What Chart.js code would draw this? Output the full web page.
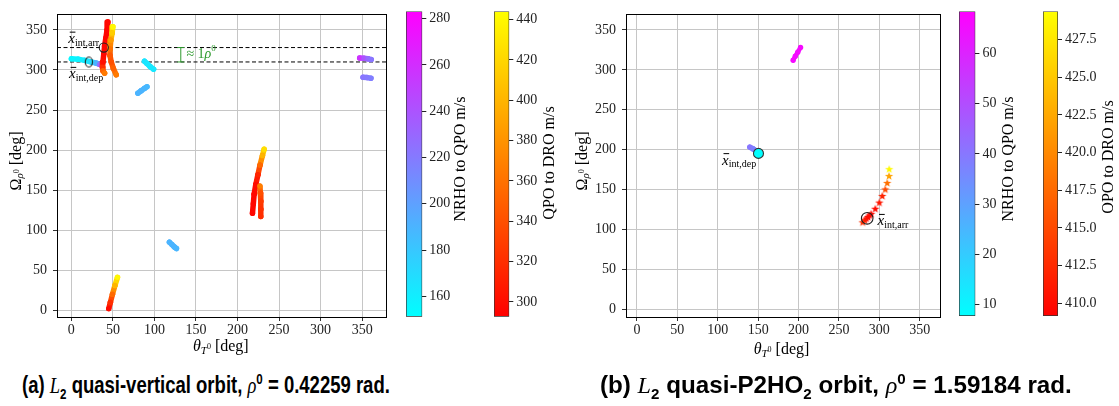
<!DOCTYPE html>
<html>
<head>
<meta charset="utf-8">
<script src="https://cdn.jsdelivr.net/npm/chart.js@4.4.0/dist/chart.umd.min.js"></script>
<style>
  body { margin: 0; background: #fff; width: 1119px; height: 406px; overflow: hidden; position: relative; }
  canvas { position: absolute; top: 0; }
  .cap { position: absolute; top: 371px; white-space: nowrap; transform-origin: left top; line-height: 28px;
         font-family: "Liberation Sans Narrow", "Arial Narrow", "Liberation Sans", sans-serif;
         font-weight: bold; font-size: 24px; color: #000; }
  .cap i { font-family: "Liberation Serif", serif; font-weight: normal; }
  .cap sub, .cap sup { font-size: 15px; line-height: 0; }
</style>
</head>
<body>
<canvas id="plotA" width="392" height="365" style="left:0px"></canvas>
<canvas id="cbA1" width="80" height="330" style="left:400px"></canvas>
<canvas id="cbA2" width="80" height="330" style="left:488px"></canvas>
<canvas id="plotB" width="390" height="365" style="left:560px"></canvas>
<canvas id="cbB1" width="80" height="330" style="left:953px"></canvas>
<canvas id="cbB2" width="76" height="330" style="left:1037px"></canvas>

<div class="cap" id="capA" style="left:22px" data-w="368">(a) <i>L</i><sub>2</sub> quasi-vertical orbit, <i>ρ</i><sup>0</sup> = 0.42259 rad.</div>
<div class="cap" id="capB" style="left:600px" data-w="472">(b) <i>L</i><sub>2</sub> quasi-P2HO<sub>2</sub> orbit, <i>ρ</i><sup>0</sup> = 1.59184 rad.</div>

<script>
// tick labels
const xTicks = [0, 50, 100, 150, 200, 250, 300, 350];
const yTicks = [0, 50, 100, 150, 200, 250, 300, 350];
const aCoolTicks = [160, 180, 200, 220, 240, 260, 280];
const aWarmTicks = [300, 320, 340, 360, 380, 400, 420, 440];
const bCoolTicks = [10, 20, 30, 40, 50, 60];
const bWarmTicks = [410, 412.5, 415, 417.5, 420, 422.5, 425, 427.5];

// colour ranges of the colorbars
const aCoolRange = [151.2, 283.1];
const aWarmRange = [292.7, 444];
const bCoolRange = [7.7, 68.4];
const bWarmRange = [409.16, 429.37];

// panel (a) traces: [theta, Omega, dv]
const aCoolTop = [[0, 314, 156], [8, 313.5, 158], [16, 312, 161], [24, 310, 168], [30, 308.5, 190], [34, 307, 225], [37, 306, 262]];
const aCoolMid = [[88, 311, 165], [91, 308, 164], [95, 304, 163], [99, 301, 163]];
const aCoolLow = [[80, 271, 190], [84, 274, 190], [88, 277, 189], [91, 279, 188]];
const aCoolCentre = [[118, 85, 190], [121, 82, 190], [124, 79, 190], [126.5, 77, 189]];
const aCoolEdgeTop = [[347, 315, 258], [352, 314.5, 240], [357, 314, 228], [361, 313, 222]];
const aCoolEdgeLow = [[351, 291, 222], [356, 290.5, 220], [360.6, 289.6, 218]];
const aWarmA = [[44, 360, 298], [43, 350, 296], [41.5, 340, 295], [40, 330, 296], [39, 320, 298], [38, 310, 302], [37.5, 303, 320], [38, 299, 350], [40, 296, 365]];
const aWarmB = [[50, 354, 440], [49, 346, 415], [47.5, 337, 385], [46.5, 326, 360], [46.5, 318, 345], [48, 310, 340], [50.5, 302, 350], [54, 294, 365]];
const aWarmC = [[232, 201, 425], [230, 193, 400], [227, 181, 355], [224.5, 169, 315], [222, 157, 300], [220, 145, 297], [219, 133, 296], [218, 121, 296]];
const aWarmD = [[227, 155, 368], [227.5, 146, 340], [228, 136, 328], [228, 126, 322], [228, 117, 320]];
const aWarmE = [[45, 2, 298], [47, 10, 320], [49.5, 20, 355], [52.5, 31, 400], [55.5, 41, 440]];
const aArr = [39, 328];
const aDep = [21, 310];
const aGap = [131.7, 310, 328];

// panel (b) traces
const bCoolTop = [[193.3, 312, 66], [196, 317, 66], [199, 322, 66], [202.5, 328, 66]];
const bCoolDep = [[139.7, 203.4, 40], [144, 201, 38], [148, 198.5, 36]];
const bWarmStars = [[312.3, 175.8, 429], [312, 167.2, 422], [309.8, 158.6, 418], [307.4, 150.5, 415], [303.7, 142.3, 412],
  [300, 134, 411], [295, 126.3, 410], [290, 120, 410], [288, 118, 410], [286, 116, 410], [284, 114, 410], [282, 112, 411], [279.4, 109.4, 413]];
const bArr = [285, 114.4];
const bDep = [150.4, 195.5, 8];

const FONT = '"Liberation Serif", "Times New Roman", serif';

function cool(v, r) {
  const t = Math.max(0, Math.min(1, (v - r[0]) / (r[1] - r[0])));
  return `rgb(${Math.round(255 * t)},${Math.round(255 * (1 - t))},255)`;
}
function autumn(v, r) {
  const t = Math.max(0, Math.min(1, (v - r[0]) / (r[1] - r[0])));
  return `rgb(255,${Math.round(255 * t)},0)`;
}

function traceSet(arr, cmap, range) {
  const col = v => cmap(v, range);
  return {
    data: arr.map(p => ({ x: p[0], y: p[1] })),
    showLine: true,
    borderWidth: 5.5,
    borderCapStyle: 'round',
    borderJoinStyle: 'round',
    segment: { borderColor: c => col((arr[c.p0DataIndex][2] + arr[c.p1DataIndex][2]) / 2) },
    pointRadius: 2.7,
    pointBorderWidth: 0,
    pointBackgroundColor: c => col(arr[c.dataIndex][2]),
    order: 5
  };
}

const starCache = {};
function starImg(color) {
  if (starCache[color]) return starCache[color];
  const c = document.createElement('canvas');
  c.width = 10; c.height = 10;
  const g = c.getContext('2d');
  g.beginPath();
  for (let i = 0; i < 10; i++) {
    const r = i % 2 ? 1.8 : 4.4;
    const a = -Math.PI / 2 + i * Math.PI / 5;
    g.lineTo(5 + r * Math.cos(a), 5.3 + r * Math.sin(a));
  }
  g.closePath();
  g.fillStyle = color;
  g.fill();
  starCache[color] = c;
  return c;
}

function ellipseImg() {
  const c = document.createElement('canvas');
  c.width = 10; c.height = 13;
  const g = c.getContext('2d');
  g.beginPath();
  g.ellipse(5, 6.5, 3.6, 5, 0, 0, Math.PI * 2);
  g.strokeStyle = '#222';
  g.lineWidth = 1.1;
  g.stroke();
  return c;
}

function rich(ctx, cx, cy, parts, rot, align) {
  ctx.save();
  ctx.translate(cx, cy);
  if (rot) ctx.rotate(rot);
  let w = 0;
  parts.forEach(p => { ctx.font = p.f; p.w = ctx.measureText(p.t).width; w += p.w; });
  let x = align === 'left' ? 0 : -w / 2;
  ctx.textBaseline = 'middle';
  ctx.textAlign = 'left';
  parts.forEach(p => {
    ctx.font = p.f;
    ctx.fillStyle = p.c || '#000';
    ctx.fillText(p.t, x, p.dy || 0);
    if (p.bar) ctx.fillRect(x + 1.5, (p.dy || 0) - 7.5, p.w - 1, 1);
    x += p.w;
  });
  ctx.restore();
}

function xbar(sub) {
  return [{ t: 'x', f: `italic 15px ${FONT}`, bar: true }, { t: sub, f: `10px ${FONT}`, dy: 4 }];
}
const thetaTitle = [{ t: 'θ', f: `italic 16px ${FONT}` }, { t: 'T', f: `italic 11px ${FONT}`, dy: 4 },
  { t: '0', f: `8px ${FONT}`, dy: 0 }, { t: ' [deg]', f: `16px ${FONT}` }];
const omegaTitle = [{ t: 'Ω', f: `16px ${FONT}` }, { t: 'ρ', f: `italic 11px ${FONT}`, dy: 4 },
  { t: '0', f: `8px ${FONT}`, dy: 0 }, { t: ' [deg]', f: `16px ${FONT}` }];

function panelPlugin(notes, xTitle, yTitle) {
  return {
    id: 'panelDeco',
    afterDraw(chart) {
      const ctx = chart.ctx, a = chart.chartArea;
      ctx.save();
      ctx.strokeStyle = '#000';
      ctx.lineWidth = 1;
      ctx.strokeRect(Math.round(a.left) + 0.5, Math.round(a.top) + 0.5, Math.round(a.right - a.left), Math.round(a.bottom - a.top));
      ctx.restore();
      const xs = chart.scales.x, ys = chart.scales.y;
      notes.forEach(n => rich(ctx, xs.getPixelForValue(n.x), ys.getPixelForValue(n.y), n.parts, 0, n.align));
      rich(ctx, xTitle[0], xTitle[1], thetaTitle, 0);
      rich(ctx, yTitle[0], yTitle[1], omegaTitle, -Math.PI / 2);
    }
  };
}

function axisOpts(range, ticks, fit) {
  return {
    type: 'linear', min: range[0], max: range[1],
    afterBuildTicks: s => { s.ticks = ticks.map(v => ({ value: v })); },
    afterFit: fit,
    grid: { color: '#c6c6c6', lineWidth: 1, tickLength: 4, tickColor: '#333' },
    border: { display: false },
    ticks: { font: { family: FONT, size: 14 }, color: '#222', autoSkip: false, maxRotation: 0 }
  };
}

function scatterPanel(id, xr, yr, yW, pad, datasets, notes, xTitle, yTitle) {
  const x = axisOpts(xr, xTicks, s => { s.height = 48; });
  x.ticks.padding = 1;
  const y = axisOpts(yr, yTicks, s => { s.width = yW; });
  y.ticks.padding = 6;
  new Chart(document.getElementById(id), {
    type: 'scatter',
    data: { datasets },
    options: {
      responsive: false, animation: false, devicePixelRatio: 1,
      layout: { padding: { left: 0, top: pad[0], right: pad[1], bottom: 0 } },
      plugins: { legend: { display: false }, tooltip: { enabled: false } },
      scales: { x, y }
    },
    plugins: [panelPlugin(notes, xTitle, yTitle)]
  });
}

function colorbar(id, range, ticks, cmap, rect, label, labelPos, decimals) {
  const cv = document.getElementById(id);
  const W = cv.width, H = cv.height;
  new Chart(cv, {
    type: 'bar',
    data: {
      labels: [''],
      datasets: [{
        data: [[range[0], range[1]]],
        backgroundColor: c => {
          const a = c.chart.chartArea;
          if (!a) return '#fff';
          const g = c.chart.ctx.createLinearGradient(0, a.bottom, 0, a.top);
          g.addColorStop(0, cmap(range[0], range));
          g.addColorStop(1, cmap(range[1], range));
          return g;
        },
        borderColor: '#333', borderWidth: 1, borderSkipped: false,
        barPercentage: 1, categoryPercentage: 1
      }]
    },
    options: {
      responsive: false, animation: false, devicePixelRatio: 1,
      layout: { padding: { left: 6, top: rect[0], right: 0, bottom: H - rect[1] } },
      plugins: { legend: { display: false }, tooltip: { enabled: false } },
      scales: {
        x: { display: false },
        y: {
          position: 'right', min: range[0], max: range[1],
          afterBuildTicks: s => { s.ticks = ticks.map(v => ({ value: v })); },
          afterFit: s => { s.width = W - 6 - rect[2]; },
          grid: { drawOnChartArea: false, tickLength: 4, tickColor: '#222' },
          border: { display: false },
          ticks: { font: { family: FONT, size: 14 }, color: '#222', padding: 3, autoSkip: false,
                   callback: v => decimals ? v.toFixed(decimals) : String(v) }
        }
      }
    },
    plugins: [{
      id: 'cbLabel',
      afterDraw(chart) {
        const ctx = chart.ctx;
        ctx.save();
        ctx.translate(labelPos[0], labelPos[1]);
        ctx.rotate(-Math.PI / 2);
        ctx.font = `16px ${FONT}`;
        ctx.fillStyle = '#000';
        ctx.textAlign = 'center';
        ctx.textBaseline = 'middle';
        ctx.fillText(label, 0, 0);
        ctx.restore();
      }
    }]
  });
}

// panel (a)
const dashed = (yv, xr) => ({
  data: [{ x: xr[0], y: yv }, { x: xr[1], y: yv }], showLine: true,
  borderColor: '#000', borderWidth: 1, borderDash: [4, 2.5], pointRadius: 0, order: 8
});
const aXR = [-17.3, 378.7], aYR = [-8.5, 369.4];
const greenC = '#2e9a2e';
scatterPanel('plotA', aXR, aYR, 57, [5, 6], [
  { data: [{ x: aArr[0], y: aArr[1] }], pointRadius: 4.6, pointBackgroundColor: 'rgba(0,0,0,0)', pointBorderColor: '#222', pointBorderWidth: 1.1, order: 0 },
  { data: [{ x: aDep[0], y: aDep[1] }], pointStyle: ellipseImg(), order: 0 },
  { data: [{ x: aGap[0], y: aGap[1] }, { x: aGap[0], y: aGap[2] }], showLine: true, borderColor: greenC, borderWidth: 1,
    pointStyle: 'line', pointRadius: 3.5, pointBorderColor: greenC, pointBorderWidth: 1, order: 1 },
  traceSet(aWarmB, autumn, aWarmRange),
  traceSet(aWarmA, autumn, aWarmRange),
  traceSet(aCoolTop, cool, aCoolRange),
  traceSet(aCoolMid, cool, aCoolRange),
  traceSet(aCoolLow, cool, aCoolRange),
  traceSet(aCoolCentre, cool, aCoolRange),
  traceSet(aCoolEdgeTop, cool, aCoolRange),
  traceSet(aCoolEdgeLow, cool, aCoolRange),
  traceSet(aWarmD, autumn, aWarmRange),
  traceSet(aWarmC, autumn, aWarmRange),
  traceSet(aWarmE, autumn, aWarmRange),
  dashed(aArr[1], aXR),
  dashed(aDep[1], aXR)
], [
  { x: 14.8, y: 338.5, parts: xbar('int,arr') },
  { x: 17.8, y: 294.5, parts: xbar('int,dep') },
  { x: 138.5, y: 320, align: 'left', parts: [{ t: '≈ 1', f: `14px ${FONT}`, c: greenC }, { t: 'ρ', f: `italic 14px ${FONT}`, c: greenC },
    { t: '0', f: `9px ${FONT}`, c: greenC, dy: -5 }] }
], [220.8, 347], [16.5, 161]);

colorbar('cbA1', aCoolRange, aCoolTicks, cool, [5, 316.7, 16.3], 'NRHO to QPO m/s', [60.8, 159]);
colorbar('cbA2', aWarmRange, aWarmTicks, autumn, [5, 316.7, 15.3], 'QPO to DRO m/s', [62, 163]);

// panel (b)
const bXR = [-13.6, 375.5], bYR = [-9.0, 369.3];
const bStarCol = v => autumn(v, bWarmRange);
scatterPanel('plotB', bXR, bYR, 66, [9.3, 9.7], [
  { data: [{ x: bArr[0], y: bArr[1] }], pointRadius: 5.8, pointBackgroundColor: 'rgba(0,0,0,0)', pointBorderColor: '#222', pointBorderWidth: 1.1, order: 0 },
  { data: [{ x: bDep[0], y: bDep[1] }], pointRadius: 5, pointBackgroundColor: cool(bDep[2], bCoolRange), pointBorderColor: '#333', pointBorderWidth: 1.1, order: 0 },
  { data: bWarmStars.map(p => ({ x: p[0], y: p[1] })), pointStyle: c => starImg(bStarCol(bWarmStars[c.dataIndex][2])), order: 3 },
  traceSet(bCoolDep, cool, bCoolRange),
  Object.assign(traceSet(bCoolTop, cool, bCoolRange), { borderWidth: 4.5 })
], [
  { x: 126.4, y: 186.5, parts: xbar('int,dep') },
  { x: 316.9, y: 110.5, parts: xbar('int,arr') }
], [781.5 - 560, 350], [582.3 - 560, 161]);

colorbar('cbB1', bCoolRange, bCoolTicks, cool, [9.3, 316, 16.4], 'NRHO to QPO m/s', [55.3, 159]);
colorbar('cbB2', bWarmRange, bWarmTicks, autumn, [9.3, 316, 15], 'QPO to DRO m/s', [71.5, 157], 1);

// fit captions to their measured widths
document.querySelectorAll('.cap').forEach(el => {
  const target = +el.dataset.w;
  const w = el.getBoundingClientRect().width;
  el.style.transform = `scaleX(${(target / w).toFixed(3)})`;
});
</script>
</body>
</html>
